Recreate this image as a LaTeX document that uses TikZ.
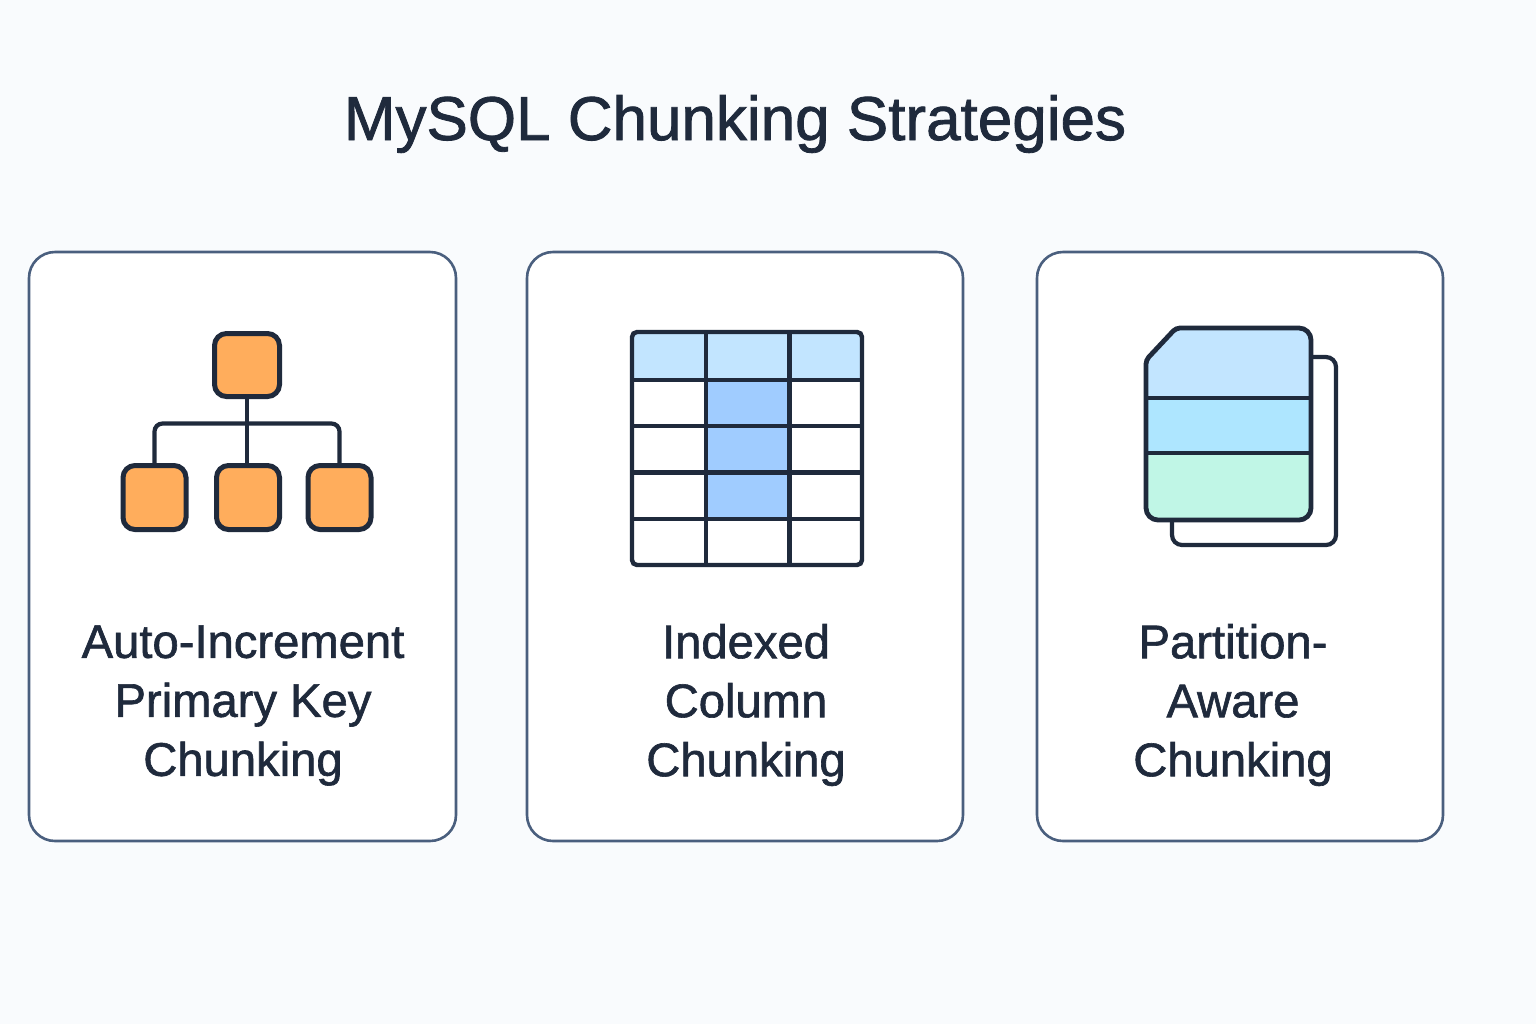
\documentclass[tikz,border=0pt]{standalone}
\usepackage{fontspec}
\setmainfont[RawFeature={embolden=1.3}]{Liberation Sans}
\usepackage{xcolor}
\definecolor{pagebg}{HTML}{F9FBFD}
\definecolor{ink}{HTML}{1F2A3C}
\definecolor{cardline}{HTML}{4A5F7E}
\definecolor{keyorange}{HTML}{FFAD5C}
\definecolor{headblue}{HTML}{C2E5FF}
\definecolor{indexblue}{HTML}{A0CCFF}
\definecolor{partcyan}{HTML}{AEE6FF}
\definecolor{partmint}{HTML}{C0F6E6}
\usepackage{tikz}
\usetikzlibrary{positioning}

\begin{document}
\begin{tikzpicture}[x=.5pt, y=-.5pt, every node/.style={text=ink},
    card/.style={draw=cardline, fill=white, line width=1.3pt, rounded corners=13pt, inner sep=0pt},
    keybox/.style={draw=ink, fill=keyorange, line width=2.5pt, rounded corners=6pt, minimum width=31.5pt, minimum height=32pt, inner sep=0pt},
    wire/.style={draw=ink, line width=2.1pt},
    caption/.style={font=\fontsize{23.6}{29.5}\selectfont, align=center, inner sep=0pt}]
    \fill[pagebg] (0,0) rectangle (1536,1024);
    \node[font=\fontsize{31}{36}\selectfont, inner sep=0pt] (title) at (735,124) {MySQL Chunking Strategies};
    \node[card, minimum width=213.5pt, minimum height=294.5pt] (card1) at (242.5,546.5) {};
    \node[card, minimum width=218pt, minimum height=294.5pt] (card2) at (745,546.5) {};
    \node[card, minimum width=203pt, minimum height=294.5pt] (card3) at (1240,546.5) {};
    \node[caption] (text1) at (243,705.5) {Auto-Increment\\Primary Key\\Chunking};
    \node[caption] (text2) at (746,705) {Indexed\\Column\\Chunking};
    \node[caption] (text3) at (1233,705) {Partition-\\Aware\\Chunking};
    \node[keybox, minimum width=32.5pt, minimum height=31.5pt] (root) at (247,365) {};
    \node[keybox] (leaf1) at (154.5,497.5) {};
    \node[keybox] (leaf2) at (248,497.5) {};
    \node[keybox] (leaf3) at (339.5,497.5) {};
    \coordinate (bus) at (247,423.5);
    \draw[wire] (root.south) -- (bus);
    \draw[wire] (bus) -- (bus |- leaf2.north);
    \draw[wire, rounded corners=4pt] (leaf1.north) |- (bus) -| (leaf3.north);
    \fill[headblue] (632,332) rectangle (862,379);
    \fill[indexblue] (706,379) rectangle (790,519);
    \foreach \y in {380,426,472.5,519}
        \draw[wire] (632,\y) -- (862,\y);
    \foreach \x in {706,789.5}
        \draw[wire] (\x,332) -- (\x,565);
    \draw[draw=ink, line width=2.2pt, rounded corners=2.5pt] (632,332) rectangle (862,565);
    \draw[wire, rounded corners=5pt] (1311,357) -- (1336,357) -- (1336,545) -- (1172,545) -- (1172,520);
    \begin{scope}
        \clip[rounded corners=6pt] (1311,420) -- (1311,520) -- (1146,520) [rounded corners=2pt] -- (1146,360) -- (1176,328) [rounded corners=6pt] -- (1311,328) -- cycle;
        \fill[headblue] (1146,328) rectangle (1311,398);
        \fill[partcyan] (1146,398) rectangle (1311,453);
        \fill[partmint] (1146,453) rectangle (1311,520);
    \end{scope}
    \foreach \y in {398,453}
        \draw[wire] (1146,\y) -- (1311,\y);
    \draw[draw=ink, line width=2.4pt, rounded corners=6pt] (1311,420) -- (1311,520) -- (1146,520) [rounded corners=2pt] -- (1146,360) -- (1176,328) [rounded corners=6pt] -- (1311,328) -- cycle;
\end{tikzpicture}
\end{document}
